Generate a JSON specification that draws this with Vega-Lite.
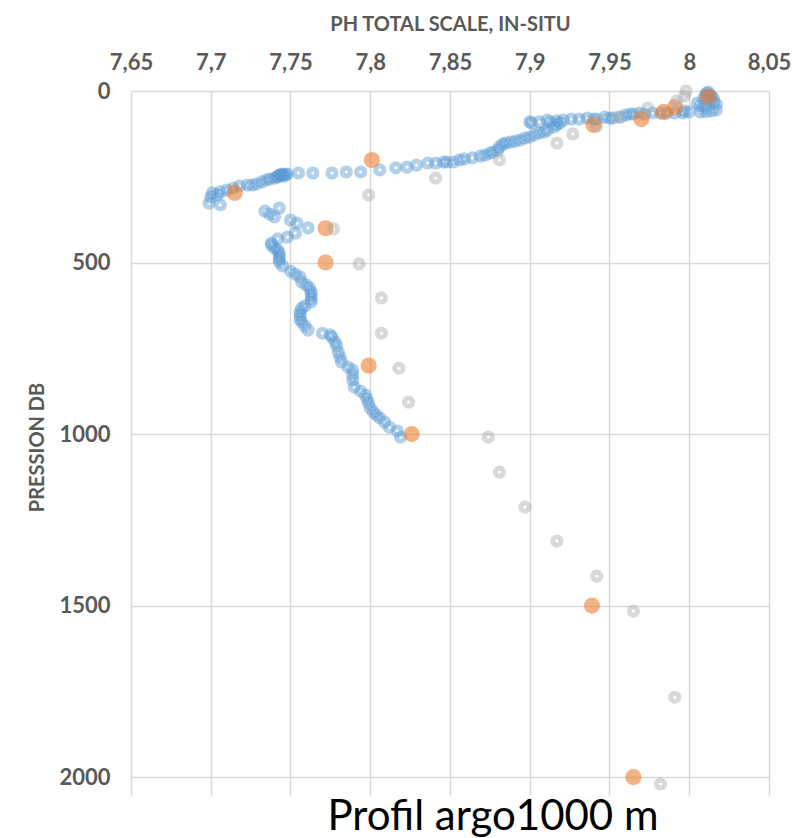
{
  "$schema": "https://vega.github.io/schema/vega-lite/v6.json",
  "width": 638,
  "height": 704,
  "autosize": {"type": "none"},
  "padding": {"left": 131, "top": 91, "right": 43, "bottom": 43},
  "background": "white",
  "config": {
    "font": "Lato",
    "view": {"stroke": null},
    "axis": {"labelColor": "#595959", "titleColor": "#595959", "gridColor": "#D9D9D9", "gridWidth": 1.5, "domain": false, "ticks": false, "tickSize": 0}
  },
  "title": {"text": "Profil argo1000 m", "orient": "bottom", "anchor": "middle", "frame": "group", "dx": 43, "offset": 32, "baseline": "alphabetic", "fontSize": 42, "fontWeight": "normal", "color": "#000000", "font": "Lato"},
  "datasets": {
    "blue": [
      {"ph": 8.011, "p": 6}, {"ph": 8.012, "p": 3}, {"ph": 8.013, "p": 12}, {"ph": 8.010, "p": 12}, {"ph": 8.0136, "p": 15}, {"ph": 8.009, "p": 23}, {"ph": 8.015, "p": 20}, {"ph": 8.012, "p": 26}, {"ph": 8.0155, "p": 32}, {"ph": 8.005, "p": 35}, {"ph": 8.017, "p": 38}, {"ph": 8.007, "p": 44}, {"ph": 8.010, "p": 47}, {"ph": 8.017, "p": 55}, {"ph": 8.014, "p": 58}, {"ph": 8.0105, "p": 61}, {"ph": 8.007, "p": 61}, {"ph": 7.997, "p": 58}, {"ph": 8.000, "p": 61}, {"ph": 7.996, "p": 64}, {"ph": 7.991, "p": 64}, {"ph": 7.986, "p": 64}, {"ph": 7.982, "p": 64}, {"ph": 7.977, "p": 64}, {"ph": 7.972, "p": 67}, {"ph": 7.969, "p": 64}, {"ph": 7.965, "p": 67}, {"ph": 7.963, "p": 67}, {"ph": 7.960, "p": 70}, {"ph": 7.957, "p": 76}, {"ph": 7.952, "p": 79}, {"ph": 7.950, "p": 79}, {"ph": 7.947, "p": 76}, {"ph": 7.942, "p": 82}, {"ph": 7.940, "p": 82}, {"ph": 7.936, "p": 79}, {"ph": 7.931, "p": 82}, {"ph": 7.926, "p": 82}, {"ph": 7.921, "p": 85}, {"ph": 7.917, "p": 87}, {"ph": 7.913, "p": 90}, {"ph": 7.911, "p": 85}, {"ph": 7.906, "p": 90}, {"ph": 7.901, "p": 93}, {"ph": 7.900, "p": 90},
      {"ph": 7.919, "p": 93}, {"ph": 7.917, "p": 99}, {"ph": 7.915, "p": 105}, {"ph": 7.911, "p": 114}, {"ph": 7.909, "p": 120}, {"ph": 7.906, "p": 122}, {"ph": 7.903, "p": 128}, {"ph": 7.900, "p": 134}, {"ph": 7.897, "p": 137}, {"ph": 7.894, "p": 143}, {"ph": 7.891, "p": 146}, {"ph": 7.888, "p": 149}, {"ph": 7.885, "p": 152}, {"ph": 7.883, "p": 155}, {"ph": 7.881, "p": 163}, {"ph": 7.880, "p": 172}, {"ph": 7.877, "p": 178}, {"ph": 7.875, "p": 181}, {"ph": 7.872, "p": 187}, {"ph": 7.869, "p": 190}, {"ph": 7.864, "p": 195}, {"ph": 7.859, "p": 198}, {"ph": 7.856, "p": 201}, {"ph": 7.852, "p": 207}, {"ph": 7.848, "p": 207}, {"ph": 7.846, "p": 207}, {"ph": 7.841, "p": 210}, {"ph": 7.836, "p": 210}, {"ph": 7.829, "p": 216}, {"ph": 7.823, "p": 222}, {"ph": 7.816, "p": 224}, {"ph": 7.806, "p": 230}, {"ph": 7.794, "p": 236}, {"ph": 7.785, "p": 236}, {"ph": 7.776, "p": 239}, {"ph": 7.764, "p": 239}, {"ph": 7.755, "p": 239}, {"ph": 7.748, "p": 242}, {"ph": 7.745, "p": 242}, {"ph": 7.746, "p": 248}, {"ph": 7.743, "p": 245}, {"ph": 7.744, "p": 244}, {"ph": 7.747, "p": 243}, {"ph": 7.745, "p": 246}, {"ph": 7.742, "p": 248}, {"ph": 7.742, "p": 251}, {"ph": 7.740, "p": 254}, {"ph": 7.737, "p": 257}, {"ph": 7.735, "p": 259}, {"ph": 7.732, "p": 265}, {"ph": 7.729, "p": 271}, {"ph": 7.726, "p": 274}, {"ph": 7.723, "p": 274}, {"ph": 7.718, "p": 277}, {"ph": 7.714, "p": 283}, {"ph": 7.710, "p": 289}, {"ph": 7.706, "p": 294}, {"ph": 7.701, "p": 297}, {"ph": 7.704, "p": 303}, {"ph": 7.700, "p": 309}, {"ph": 7.706, "p": 332}, {"ph": 7.699, "p": 327},
      {"ph": 7.734, "p": 350}, {"ph": 7.743, "p": 341}, {"ph": 7.737, "p": 359}, {"ph": 7.740, "p": 367}, {"ph": 7.750, "p": 376}, {"ph": 7.754, "p": 385}, {"ph": 7.761, "p": 399}, {"ph": 7.753, "p": 414}, {"ph": 7.748, "p": 426}, {"ph": 7.742, "p": 431}, {"ph": 7.738, "p": 443}, {"ph": 7.738, "p": 449}, {"ph": 7.740, "p": 458}, {"ph": 7.742, "p": 464}, {"ph": 7.743, "p": 472}, {"ph": 7.743, "p": 481}, {"ph": 7.743, "p": 490}, {"ph": 7.743, "p": 499}, {"ph": 7.745, "p": 510}, {"ph": 7.750, "p": 525}, {"ph": 7.753, "p": 534}, {"ph": 7.756, "p": 542}, {"ph": 7.757, "p": 557}, {"ph": 7.760, "p": 566}, {"ph": 7.762, "p": 574}, {"ph": 7.763, "p": 586}, {"ph": 7.763, "p": 595}, {"ph": 7.763, "p": 606}, {"ph": 7.763, "p": 615}, {"ph": 7.759, "p": 627}, {"ph": 7.757, "p": 633}, {"ph": 7.756, "p": 644}, {"ph": 7.756, "p": 653}, {"ph": 7.756, "p": 665}, {"ph": 7.757, "p": 673}, {"ph": 7.759, "p": 685}, {"ph": 7.761, "p": 697}, {"ph": 7.770, "p": 706}, {"ph": 7.775, "p": 711}, {"ph": 7.776, "p": 717}, {"ph": 7.778, "p": 732}, {"ph": 7.779, "p": 743}, {"ph": 7.780, "p": 761}, {"ph": 7.781, "p": 776}, {"ph": 7.782, "p": 790}, {"ph": 7.786, "p": 805}, {"ph": 7.789, "p": 813}, {"ph": 7.789, "p": 828}, {"ph": 7.789, "p": 843}, {"ph": 7.790, "p": 863}, {"ph": 7.794, "p": 875}, {"ph": 7.797, "p": 886}, {"ph": 7.798, "p": 898}, {"ph": 7.799, "p": 910}, {"ph": 7.800, "p": 924}, {"ph": 7.802, "p": 936}, {"ph": 7.804, "p": 945}, {"ph": 7.806, "p": 953}, {"ph": 7.809, "p": 965}, {"ph": 7.812, "p": 980}, {"ph": 7.817, "p": 991}, {"ph": 7.819, "p": 1009}
    ],
    "orange": [
      {"ph": 8.012, "p": 17}, {"ph": 7.991, "p": 47}, {"ph": 7.984, "p": 61}, {"ph": 7.970, "p": 82}, {"ph": 7.940, "p": 99}, {"ph": 7.801, "p": 201}, {"ph": 7.715, "p": 297}, {"ph": 7.772, "p": 400}, {"ph": 7.772, "p": 500}, {"ph": 7.799, "p": 800}, {"ph": 7.826, "p": 1000}, {"ph": 7.939, "p": 1500}, {"ph": 7.965, "p": 2000}
    ],
    "grey": [
      {"ph": 7.998, "p": 0}, {"ph": 7.997, "p": 15}, {"ph": 7.992, "p": 29}, {"ph": 7.974, "p": 50}, {"ph": 7.955, "p": 76}, {"ph": 7.942, "p": 102}, {"ph": 7.927, "p": 125}, {"ph": 7.917, "p": 152}, {"ph": 7.881, "p": 201}, {"ph": 7.841, "p": 254}, {"ph": 7.799, "p": 303}, {"ph": 7.777, "p": 402}, {"ph": 7.793, "p": 504}, {"ph": 7.807, "p": 603}, {"ph": 7.807, "p": 706}, {"ph": 7.818, "p": 808}, {"ph": 7.824, "p": 907}, {"ph": 7.874, "p": 1009}, {"ph": 7.881, "p": 1111}, {"ph": 7.897, "p": 1213}, {"ph": 7.917, "p": 1312}, {"ph": 7.942, "p": 1414}, {"ph": 7.965, "p": 1516}, {"ph": 7.991, "p": 1767}, {"ph": 7.982, "p": 2020}
    ]
  },
  "encoding": {
    "x": {
      "field": "ph", "type": "quantitative",
      "scale": {"domain": [7.65, 8.05], "nice": false, "zero": false},
      "axis": {
        "orient": "top", "title": "PH TOTAL SCALE, IN-SITU",
        "values": [7.65, 7.7, 7.75, 7.8, 7.85, 7.9, 7.95, 8, 8.05],
        "labelExpr": "replace(format(datum.value, '.3~g'), '.', ',')",
        "labelFontSize": 22, "labelFontWeight": "bold", "labelBaseline": "alphabetic", "labelPadding": 22, "labelFlush": false, "labelOverlap": false,
        "titleFontSize": 20, "titleFontWeight": "bold", "titleBaseline": "alphabetic", "titleY": -61
      }
    },
    "y": {
      "field": "p", "type": "quantitative",
      "scale": {"domain": [0, 2052], "nice": false, "zero": false, "reverse": true},
      "axis": {
        "title": "PRESSION DB",
        "values": [0, 500, 1000, 1500, 2000],
        "format": "d",
        "labelFontSize": 22, "labelFontWeight": "bold", "labelPadding": 21, "labelFlush": false, "labelOverlap": false,
        "titleFontSize": 20, "titleFontWeight": "bold", "titleBaseline": "alphabetic", "titleX": -88, "titleY": 356, "titleAngle": -90, "titleAlign": "center"
      }
    }
  },
  "layer": [
    {
      "data": {"name": "blue"},
      "mark": {"type": "point", "shape": "circle", "filled": false, "size": 66, "strokeWidth": 5, "stroke": "#5B9BD5", "strokeOpacity": 0.66}
    },
    {
      "data": {"name": "orange"},
      "mark": {"type": "circle", "size": 260, "fill": "#ED7D31", "opacity": 0.6, "strokeWidth": 0}
    },
    {
      "data": {"name": "grey"},
      "mark": {"type": "point", "shape": "circle", "filled": false, "size": 66, "strokeWidth": 5, "stroke": "#A5A5A5", "strokeOpacity": 0.6}
    }
  ]
}
